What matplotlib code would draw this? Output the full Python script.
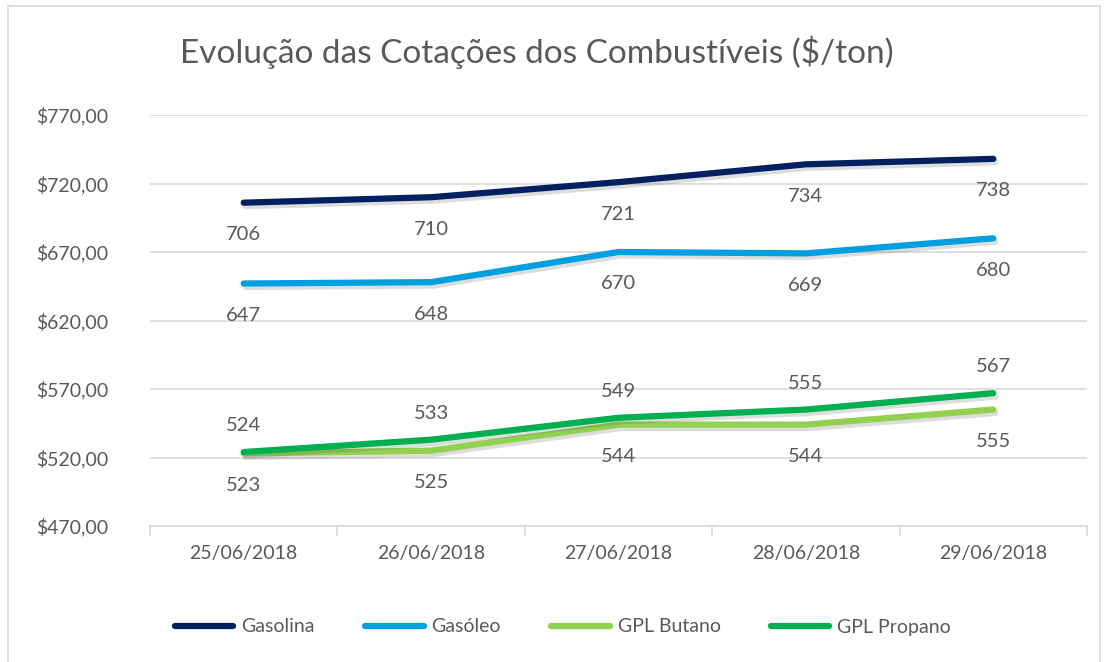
import matplotlib
matplotlib.use("Agg")
import matplotlib.pyplot as plt
import matplotlib.patheffects as pe
from matplotlib.patches import Rectangle

dates = ["25/06/2018", "26/06/2018", "27/06/2018", "28/06/2018", "29/06/2018"]
gasolina = [706, 710, 721, 734, 738]
gasoleo = [647, 648, 670, 669, 680]
butano = [523, 525, 544, 544, 555]
propano = [524, 533, 549, 555, 567]
yticks = [470, 520, 570, 620, 670, 720, 770]

plt.rcParams['font.family'] = ['Lato', 'DejaVu Sans']
txt = '#595959'

fig = plt.figure(figsize=(11.05, 6.62), dpi=100)
W, H = 1105, 662
ax = fig.add_axes([150 / W, (H - 526) / H, (1087 - 150) / W, (526 - 115) / H])

fig.patches.append(Rectangle((8 / W, -0.01), (1100 - 8) / W, (656 + 7) / H,
                             transform=fig.transFigure, fill=False,
                             edgecolor='#d9d9d9', lw=1.2))

x = list(range(len(dates)))
shadow = [pe.SimpleLineShadow(offset=(1.5, -2.5), alpha=0.2, shadow_color='#555555'), pe.Normal()]

series = [
    ("Gasolina", gasolina, '#002060', 'below'),
    ("Gasóleo", gasoleo, '#00A0E0', 'below'),
    ("GPL Butano", butano, '#92D050', 'below'),
    ("GPL Propano", propano, '#00B050', 'above'),
]
for name, vals, col, pos in series:
    ax.plot(x, vals, color=col, lw=4.5, label=name, solid_capstyle='round',
            path_effects=shadow)
    for xi, v in zip(x, vals):
        off = -23 if pos == 'below' else 19
        ax.annotate(str(v), (xi, v), xytext=(0, off), textcoords='offset points',
                    ha='center', va='center', fontsize=14.5, color=txt)

ax.set_xlim(-0.5, len(dates) - 0.5)
ax.set_ylim(470, 770)
ax.set_yticks(yticks)
ax.set_yticklabels([f"${v:,.2f}".replace('.', ',') for v in yticks], fontsize=14, color=txt)
ax.set_xticks(x)
ax.set_xticklabels(dates, fontsize=14, color=txt)
ax.grid(axis='y', color='#d9d9d9', lw=1.2)
ax.set_axisbelow(True)
for s in ['top', 'right', 'left']:
    ax.spines[s].set_visible(False)
ax.spines['bottom'].set_color('#d9d9d9')
ax.spines['bottom'].set_linewidth(1.2)
ax.tick_params(axis='y', length=0, pad=30)
ax.tick_params(axis='x', length=0, pad=14)
ax.set_xticks([-0.5, 0.5, 1.5, 2.5, 3.5, 4.5], minor=True)
ax.tick_params(axis='x', which='minor', length=7, color='#d9d9d9', width=1.2)

fig.text(537 / W, 1 - 52 / H, "Evolução das Cotações dos Combustíveis ($/ton)",
         ha='center', va='center', fontsize=24, color=txt)

leg = fig.legend(loc='center', bbox_to_anchor=(563 / W, 1 - 627 / H), ncol=4, frameon=False,
                 fontsize=14, labelcolor=txt, handlelength=3.0, columnspacing=2.6,
                 handletextpad=0.4)
for h in leg.get_lines():
    h.set_path_effects([pe.Normal()])

fig.savefig("out.png", dpi=100)
